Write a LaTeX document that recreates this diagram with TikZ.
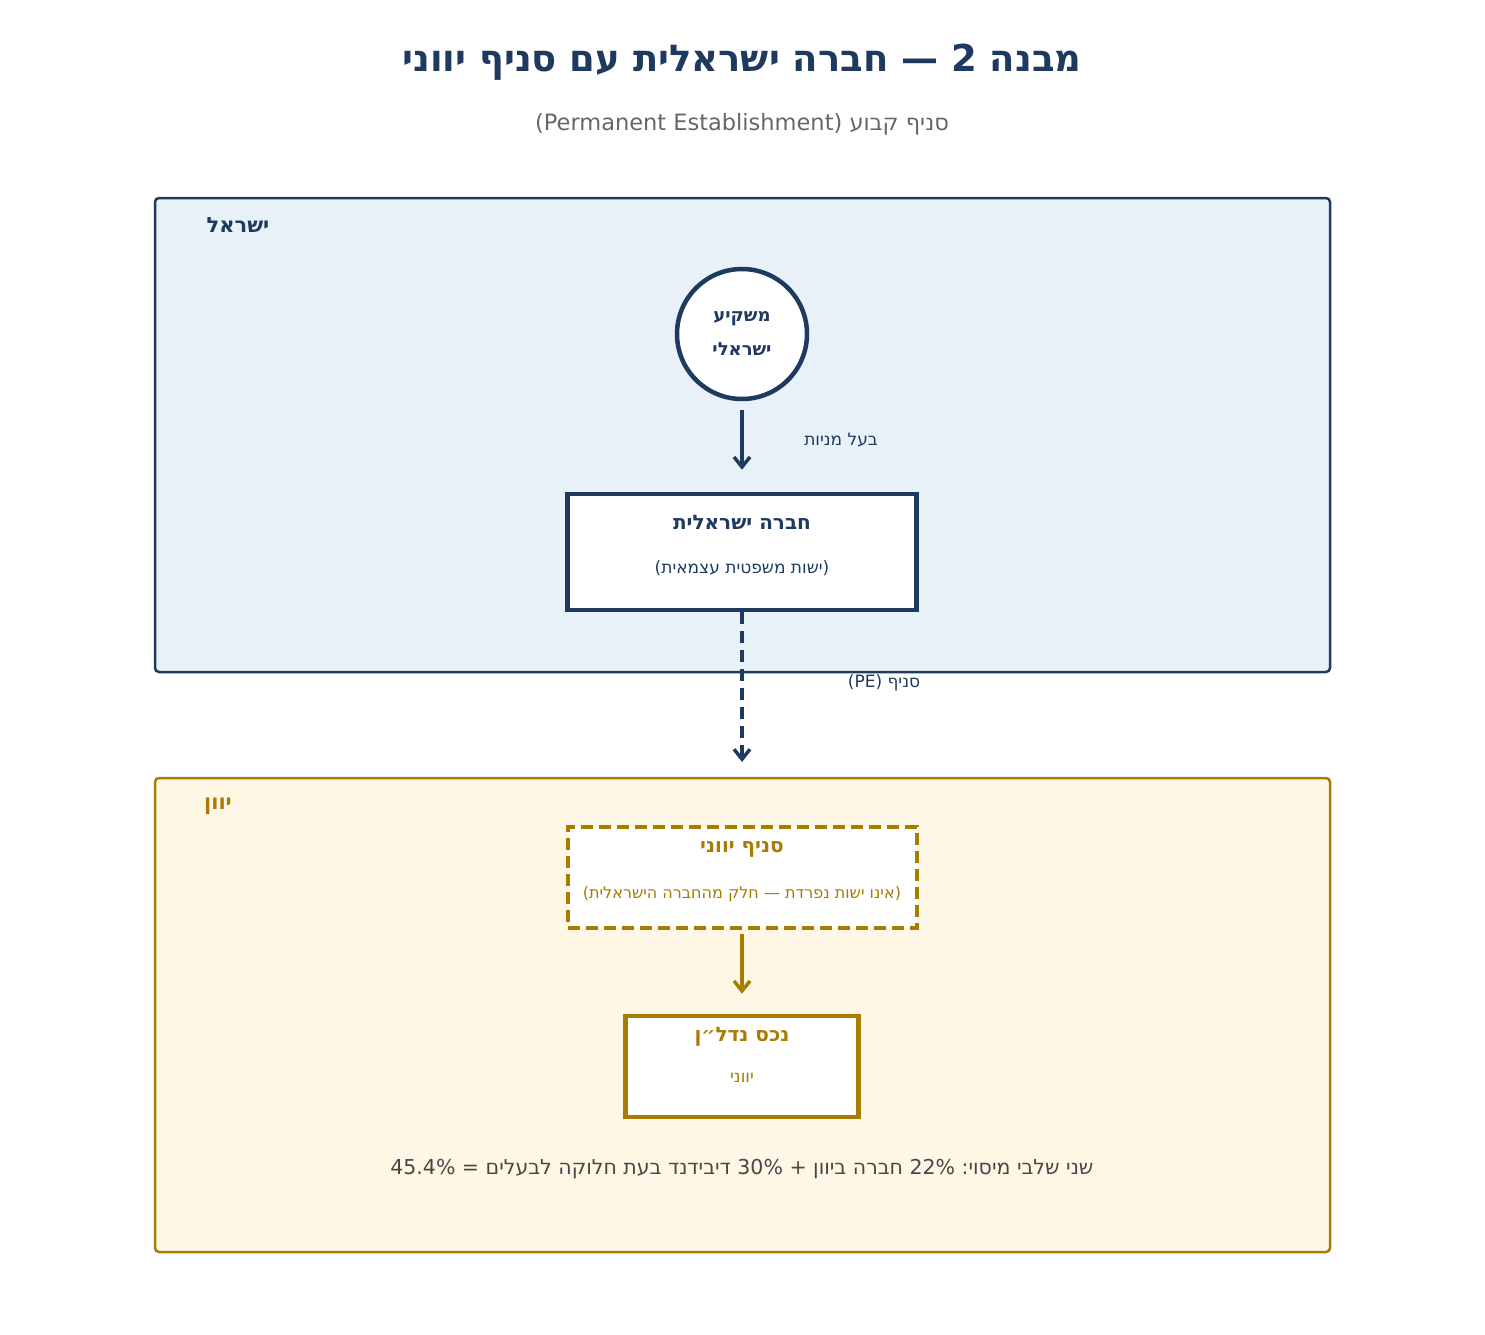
\documentclass[tikz,border=0pt]{standalone}
\usepackage{fontspec}
\setmainfont{DejaVu Sans}
\usetikzlibrary{arrows.meta, positioning}
\definecolor{navy}{HTML}{1F3A5F}
\definecolor{gold}{HTML}{A87C00}
\definecolor{paleblue}{HTML}{E8F0F8}
\definecolor{palegold}{HTML}{FEF7E6}
\begin{document}
\begin{tikzpicture}[x=1pt, y=-1pt,
    region/.style={rounded corners=4pt, line width=2.5pt},
    card/.style={draw, fill=white, line width=4pt, minimum width=349pt, align=center},
    flow/.style={line width=3.5pt, -{Straight Barb[length=10pt, width=16pt, line width=3.5pt]}},
    lbl/.style={font=\fontsize{17}{20}\selectfont}]
  \useasboundingbox (0,0) rectangle (1485,1335);
  % titles
  \node[text=navy, font=\fontsize{37}{43}\selectfont\bfseries] (title) at (742,62) {יווני סניף עם ישראלית חברה — 2 מבנה};
  \node[text=black!60, font=\fontsize{22.5}{26}\selectfont] (subtitle) at (742,124) {(Permanent Establishment) קבוע סניף};
  % regions
  \draw[region, draw=navy, fill=paleblue] (155,198) rectangle (1330,672);
  \node[text=navy, font=\fontsize{21}{25}\selectfont\bfseries] (il) at (238,225) {ישראל};
  \draw[region, draw=gold, fill=palegold] (155,778) rectangle (1330,1252);
  \node[text=gold, font=\fontsize{21}{25}\selectfont\bfseries] (gr) at (218,806) {יוון};
  % Israel
  \node[circle, draw=navy, fill=white, line width=4.5pt, minimum size=130pt, text=navy,
        align=center, font=\fontsize{18}{34}\selectfont\bfseries] (inv) at (742,334) {משקיע\\ישראלי};
  \node[card, draw=navy, minimum height=116pt, line width=4.5pt] (co) at (742,552) {};
  \node[text=navy, font=\fontsize{20}{24}\selectfont\bfseries] at (742,522) {ישראלית חברה};
  \node[text=navy, lbl] at (742,568) {(\mbox{עצמאית} \mbox{משפטית} \mbox{ישות})};
  \draw[flow, draw=navy] (inv) ++(0,76) coordinate (a1) -- ([yshift=22pt]co.north);
  \node[text=navy, lbl] at (841,440) {מניות בעל};
  \coordinate (pe) at (742,762);
  \draw[flow, draw=navy, dash pattern=on 12pt off 7pt] (co.south) -- (pe);
  \node[text=navy, lbl] at (884,683) {(PE) \mbox{סניף}};
  % Greece
  \node[card, draw=gold, minimum height=101pt, dashed, dash pattern=on 12pt off 6pt] (br) at (742,877.5) {};
  \node[text=gold, font=\fontsize{20}{24}\selectfont\bfseries] at (742,849) {יווני סניף};
  \node[text=gold, font=\fontsize{16}{19}\selectfont] at (742,894) {(\mbox{הישראלית} \mbox{מהחברה} \mbox{חלק} — \mbox{נפרדת} \mbox{ישות} \mbox{אינו})};
  \node[card, draw=gold, minimum width=233pt, minimum height=101pt, line width=4.5pt] (asset) at (742,1066.5) {};
  \node[text=gold, font=\fontsize{20}{24}\selectfont\bfseries] at (742,1037) {נדל״ן נכס};
  \node[text=gold, lbl] at (742,1078) {יווני};
  \draw[flow, draw=gold] ([yshift=-4pt]br.south) -- ([yshift=20pt]asset.north);
  \node[text=black!72, font=\fontsize{20.5}{24}\selectfont] (tax) at (742,1169) {45.4\% = לבעלים חלוקה בעת דיבידנד 30\% + ביוון חברה 22\% \mbox{:}\mbox{מיסוי} שלבי שני};
\end{tikzpicture}
\end{document}
